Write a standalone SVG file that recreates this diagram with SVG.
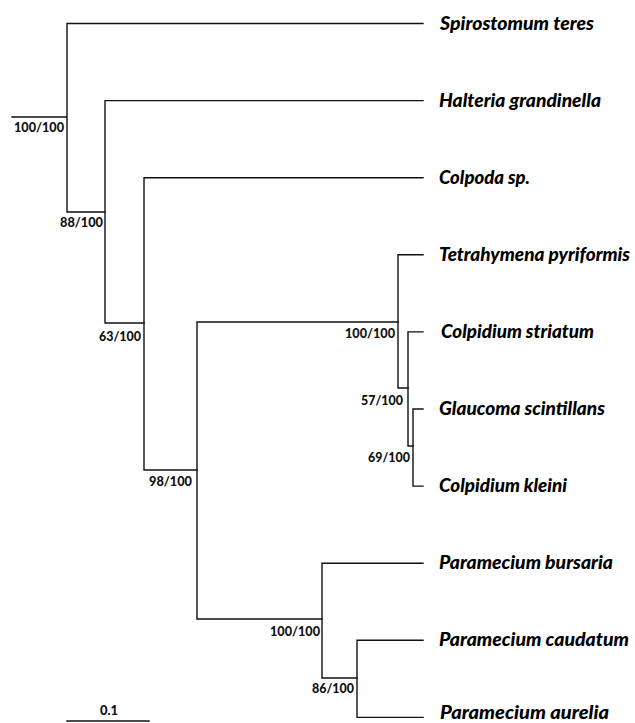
<svg xmlns="http://www.w3.org/2000/svg" width="635" height="723" viewBox="0 0 635 723">
<style>
.br{fill:none;stroke:#111;stroke-width:1.4;stroke-linecap:square}
.sp{font-family:Lato,"Open Sans","Liberation Sans",sans-serif;font-weight:900;font-style:italic;font-size:18px;fill:#000}
.bs{font-family:Lato,"Open Sans","Liberation Sans",sans-serif;font-weight:900;font-size:12.5px;fill:#111;text-anchor:end}
.sc{font-family:Lato,"Open Sans","Liberation Sans",sans-serif;font-weight:900;font-size:13px;fill:#111;text-anchor:middle}
</style>
<rect width="635" height="723" fill="#fff"/>
<g id="connectors" class="br">
<path d="M12,117 H67 M67,23.5 V212 M67,23.5 H423 M67,212 H105"/>
<path d="M105,100.6 V323 M105,100.6 H423 M105,323 H144"/>
<path d="M144,177.7 V470 M144,177.7 H423 M144,470 H197"/>
<path d="M197,322 V619 M197,322 H398 M197,619 H322"/>
<path d="M398,254.8 V388 M398,254.8 H423 M398,388 H408"/>
<path d="M408,331.9 V446 M408,331.9 H423 M408,446 H413"/>
<path d="M413,409 V486.1 M413,409 H423 M413,486.1 H423"/>
<path d="M322,563.2 V678 M322,563.2 H423 M322,678 H357"/>
<path d="M357,640.3 V717.4 M357,640.3 H423 M357,717.4 H423"/>
<path d="M67,721 H149"/>
</g>
<g id="tip-spirostomum"><text class="sp" x="440" y="30" textLength="154" lengthAdjust="spacingAndGlyphs">Spirostomum teres</text></g>
<g id="tip-halteria"><text class="sp" x="439" y="107" textLength="162" lengthAdjust="spacingAndGlyphs">Halteria grandinella</text></g>
<g id="tip-colpoda"><text class="sp" x="439" y="184" textLength="91" lengthAdjust="spacingAndGlyphs">Colpoda sp.</text></g>
<g id="tip-tetrahymena"><text class="sp" x="439" y="261" textLength="191" lengthAdjust="spacingAndGlyphs">Tetrahymena pyriformis</text></g>
<g id="tip-colpidium-striatum"><text class="sp" x="441" y="338" textLength="153" lengthAdjust="spacingAndGlyphs">Colpidium striatum</text></g>
<g id="tip-glaucoma"><text class="sp" x="439" y="415" textLength="166" lengthAdjust="spacingAndGlyphs">Glaucoma scintillans</text></g>
<g id="tip-colpidium-kleini"><text class="sp" x="439" y="492" textLength="128" lengthAdjust="spacingAndGlyphs">Colpidium kleini</text></g>
<g id="tip-paramecium-bursaria"><text class="sp" x="439" y="569" textLength="174" lengthAdjust="spacingAndGlyphs">Paramecium bursaria</text></g>
<g id="tip-paramecium-caudatum"><text class="sp" x="439" y="646" textLength="190" lengthAdjust="spacingAndGlyphs">Paramecium caudatum</text></g>
<g id="tip-paramecium-aurelia"><text class="sp" x="440" y="719" textLength="169" lengthAdjust="spacingAndGlyphs">Paramecium aurelia</text></g>
<g id="node-root"><text class="bs" x="64" y="132" textLength="50" lengthAdjust="spacingAndGlyphs">100/100</text></g>
<g id="node-88"><text class="bs" x="103" y="227" textLength="43" lengthAdjust="spacingAndGlyphs">88/100</text></g>
<g id="node-63"><text class="bs" x="141" y="341" textLength="42" lengthAdjust="spacingAndGlyphs">63/100</text></g>
<g id="node-98"><text class="bs" x="192" y="486" textLength="43" lengthAdjust="spacingAndGlyphs">98/100</text></g>
<g id="node-tetra"><text class="bs" x="395" y="338" textLength="50" lengthAdjust="spacingAndGlyphs">100/100</text></g>
<g id="node-57"><text class="bs" x="403" y="405" textLength="42" lengthAdjust="spacingAndGlyphs">57/100</text></g>
<g id="node-69"><text class="bs" x="410" y="462" textLength="42" lengthAdjust="spacingAndGlyphs">69/100</text></g>
<g id="node-param"><text class="bs" x="320" y="636" textLength="50" lengthAdjust="spacingAndGlyphs">100/100</text></g>
<g id="node-86"><text class="bs" x="354" y="693" textLength="42" lengthAdjust="spacingAndGlyphs">86/100</text></g>
<g id="scale"><text class="sc" x="109" y="715">0.1</text></g>
</svg>
